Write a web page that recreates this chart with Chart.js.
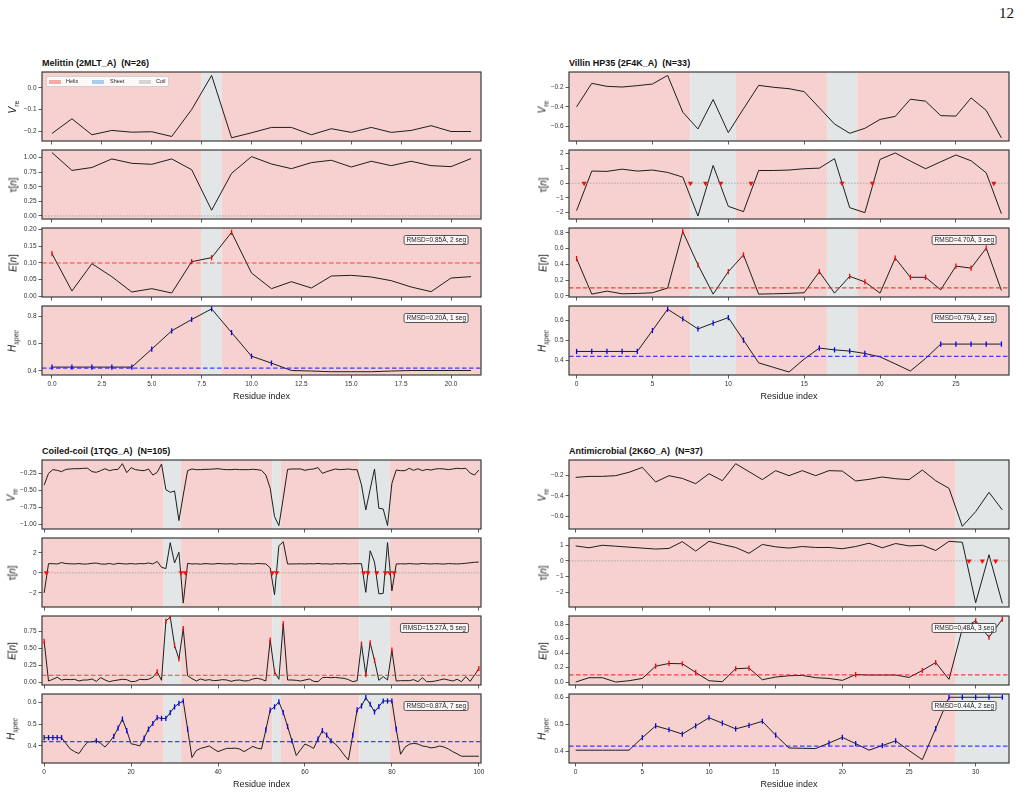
<!DOCTYPE html>
<html>
<head>
<meta charset="utf-8">
<script src="https://cdn.jsdelivr.net/npm/chart.js@4.4.0/dist/chart.umd.min.js"></script>
<style>
  body { margin: 0; background: #fff; width: 1021px; height: 794px; position: relative; overflow: hidden;
         font-family: 'Liberation Sans', Arial, sans-serif; color: #222; }
  canvas { position: absolute; }
  .title { position: absolute; font-weight: bold; font-size: 9px; white-space: pre; color: #111; }
  .ylab { position: absolute; font-size: 10px; white-space: nowrap; transform: translate(-50%, -50%) rotate(-90deg); }
  .ylab sub { font-size: 7px; }
  .xlab { position: absolute; font-size: 9px; transform: translate(-50%, -50%); white-space: nowrap; }
  .rmsd { position: absolute; font-size: 6.5px; line-height: 8px; padding: 0 2px; white-space: nowrap;
          border: 1px solid #555; border-radius: 2px; background: rgba(255,255,255,0.8); transform: translateX(-100%); }
  .legend { position: absolute; left: 46px; top: 76px; width: 121px; height: 9px; background: rgba(255,255,255,0.85);
            border: 1px solid #d0d0d0; border-radius: 2px; font-size: 5.5px; }
  .legend span { position: absolute; top: 1px; line-height: 7px; }
  .legend i { position: absolute; top: 2.5px; width: 12px; height: 4px; }
  .page { position: absolute; right: 7px; top: 5px; font-family: 'Liberation Serif', serif; font-size: 15px; color: #111; }
</style>
</head>
<body>
<div class="page">12</div>
<script>
// ---- Melittin (2MLT_A) ----
const melSS = 'HHHHHHHHCHHHHHHHHHHHHH';
const melVre = [-0.211, -0.143, -0.217, -0.197, -0.205, -0.203, -0.225, -0.100, 0.058, -0.231, -0.208,
                -0.183, -0.183, -0.217, -0.189, -0.206, -0.183, -0.206, -0.197, -0.175, -0.202, -0.202];
const melTau = [1.086, 0.78, 0.83, 0.977, 0.902, 0.885, 0.977, 0.793, 0.098, 0.73, 1.017,
                0.89, 0.81, 0.914, 0.954, 0.839, 0.937, 0.862, 0.937, 0.862, 0.845, 0.983];
const melE = [0.128, 0.016, 0.098, 0.059, 0.013, 0.023, 0.010, 0.104, 0.116, 0.192, 0.070,
              0.023, 0.044, 0.025, 0.061, 0.063, 0.058, 0.047, 0.028, 0.014, 0.055, 0.059];
const melH = [0.427, 0.427, 0.427, 0.427, 0.427, 0.559, 0.693, 0.776, 0.854, 0.680, 0.507,
              0.456, 0.402, 0.398, 0.393, 0.393, 0.393, 0.398, 0.402, 0.402, 0.402, 0.402];
const melCross = [];
const melXT = ['0.0', '2.5', '5.0', '7.5', '10.0', '12.5', '15.0', '17.5', '20.0'];
const melVreT = ['0.0', '-0.1', '-0.2'];
const melTauT = ['1.00', '0.75', '0.50', '0.25', '0.00'];
const melET = ['0.20', '0.15', '0.10', '0.05', '0.00'];
const melHT = ['0.8', '0.6', '0.4'];

// ---- Villin HP35 (2F4K_A) ----
const vilSS = 'HHHHHHHHCCCHHHHHHCCHHHHHHHHHH';
const vilVre = [-0.40, -0.159, -0.19, -0.197, -0.183, -0.166, -0.078, -0.454, -0.627, -0.325, -0.664,
                -0.42, -0.18, -0.20, -0.214, -0.244, -0.41, -0.576, -0.671, -0.62, -0.529,
                -0.498, -0.322, -0.342, -0.49, -0.495, -0.308, -0.437, -0.718];
const vilTau = [-1.86, 0.82, 0.80, 0.95, 0.82, 0.89, 0.73, 0.41, -2.23, 1.20, -1.57,
                -1.93, 0.86, 0.86, 0.89, 0.98, 1.02, 1.66, -1.66, -2.0, 1.61,
                2.05, 1.50, 0.98, 1.45, 1.91, 1.52, 0.70, -2.07];
const vilE = [0.473, 0.021, 0.059, 0.025, 0.029, 0.038, 0.098, 0.817, 0.394, 0.021, 0.306,
              0.52, 0.021, 0.025, 0.03, 0.038, 0.306, 0.033, 0.247, 0.176, 0.033,
              0.48, 0.235, 0.235, 0.075, 0.377, 0.352, 0.607, 0.067];
const vilH = [0.445, 0.445, 0.445, 0.445, 0.445, 0.55, 0.657, 0.608, 0.558, 0.587, 0.615,
              0.502, 0.388, 0.365, 0.342, 0.407, 0.462, 0.453, 0.447, 0.435, 0.418,
              0.383, 0.347, 0.41, 0.482, 0.482, 0.482, 0.482, 0.482];
const vilCross = [0.5, 7.5, 8.5, 9.5, 11.5, 17.5, 19.5, 27.5];
const vilXT = ['0', '5', '10', '15', '20', '25'];
const vilVreT = ['-0.2', '-0.4', '-0.6'];
const vilTauT = ['2', '1', '0', '-1', '-2'];
const vilET = ['0.8', '0.6', '0.4', '0.2', '0.0'];
const vilHT = ['0.6', '0.5', '0.4'];

// ---- Coiled-coil (1TQG_A) ----
const ccSS = 'HHHHHHHHHHHHHHHHHHHHHHHHHHHHCCCCHHHHHHHHHHHHHHHHHHHHHCCHHHHHHHHHHHHHHHHHHCCCCCCCHHHHHHHHHHHHHHHHHHHHH';
const ccVre = [-0.418, -0.245, -0.19, -0.20, -0.22, -0.186, -0.18, -0.176, -0.176, -0.17,
               -0.17, -0.22, -0.23, -0.205, -0.176, -0.205, -0.19, -0.186, -0.102, -0.235,
               -0.161, -0.19, -0.20, -0.205, -0.18, -0.27, -0.23, -0.107, -0.487, -0.526,
               -0.506, -0.945, -0.566, -0.205, -0.18, -0.19, -0.19, -0.185, -0.185, -0.18,
               -0.176, -0.185, -0.19, -0.19, -0.185, -0.19, -0.19, -0.19, -0.185, -0.19,
               -0.20, -0.27, -0.467, -0.886, -1.02, -0.615, -0.186, -0.18, -0.18, -0.18,
               -0.20, -0.186, -0.18, -0.16, -0.245, -0.22, -0.20, -0.18, -0.19, -0.186,
               -0.18, -0.19, -0.19, -0.418, -0.787, -0.48, -0.18, -0.763, -0.773, -1.02,
               -0.393, -0.196, -0.205, -0.205, -0.17, -0.20, -0.176, -0.205, -0.186, -0.196,
               -0.18, -0.176, -0.18, -0.19, -0.18, -0.17, -0.176, -0.17, -0.24, -0.27,
               -0.196];
const ccTau = [-2.0, 0.91, 0.91, 0.88, 1.02, 0.92, 0.90, 0.88, 0.92, 0.87,
               0.88, 0.95, 0.97, 0.88, 0.86, 0.93, 0.84, 0.95, 0.90, 0.88,
               0.92, 0.87, 0.92, 0.90, 0.98, 0.88, 1.14, 0.55, 0.42, 3.0,
               0.98, 2.05, -3.02, 0.94, 0.88, 0.90, 0.86, 0.92, 0.89, 0.87,
               0.93, 0.90, 0.88, 0.91, 0.86, 0.92, 0.89, 0.90, 0.87, 0.93,
               0.91, 0.88, 0.49, -2.2, 2.7, 3.09, 0.88, 0.88, 0.89, 0.90,
               0.88, 0.91, 0.89, 0.93, 0.88, 0.90, 0.86, 0.91, 0.89, 0.92,
               0.88, 0.90, 0.91, 0.91, -1.95, 2.2, 1.07, -2.1, -2.05, 3.02,
               -1.8, 0.88, 0.90, 0.88, 0.92, 0.89, 0.87, 0.93, 0.90, 0.88,
               0.91, 0.89, 0.87, 0.92, 0.90, 0.88, 0.91, 0.95, 1.0, 1.05,
               1.07];
const ccE = [0.60, 0.015, 0.04, 0.07, 0.03, 0.04, 0.035, 0.04, 0.015, 0.03,
             0.03, 0.045, 0.01, 0.065, 0.03, 0.005, 0.02, 0.03, 0.04, 0.035,
             0.005, 0.01, 0.04, 0.035, 0.04, 0.07, 0.15, 0.025, 0.90, 0.96,
             0.54, 0.34, 0.79, 0.093, 0.05, 0.015, 0.045, 0.025, 0.035, 0.02,
             0.025, 0.035, 0.03, 0.01, 0.025, 0.03, 0.015, 0.02, 0.045, 0.055,
             0.04, 0.015, 0.62, 0.15, 0.04, 0.86, 0.03, 0.03, 0.025, 0.015,
             0.03, 0.045, 0.01, 0.005, 0.064, 0.068, 0.064, 0.068, 0.06, 0.055,
             0.035, 0.005, 0.02, 0.56, 0.11, 0.58, 0.32, 0.025, 0.08, 0.03,
             0.47, 0.015, 0.02, 0.02, 0.02, 0.035, 0.005, 0.064, 0.005, 0.005,
             0.015, 0.03, 0.045, 0.03, 0.015, 0.04, 0.005, 0.08, 0.01, 0.10,
             0.20];
const ccH = [0.438, 0.438, 0.438, 0.438, 0.438, 0.412, 0.386, 0.374, 0.365, 0.394,
             0.418, 0.419, 0.424, 0.412, 0.395, 0.417, 0.444, 0.482, 0.523, 0.47,
             0.41, 0.406, 0.40, 0.436, 0.477, 0.503, 0.53, 0.526, 0.526, 0.553,
             0.579, 0.595, 0.606, 0.477, 0.347, 0.379, 0.389, 0.394, 0.40, 0.386,
             0.374, 0.382, 0.389, 0.389, 0.39, 0.386, 0.374, 0.386, 0.398, 0.39,
             0.386, 0.474, 0.564, 0.579, 0.602, 0.553, 0.489, 0.424, 0.356, 0.383,
             0.409, 0.40, 0.389, 0.432, 0.47, 0.45, 0.423, 0.409, 0.386, 0.359,
             0.336, 0.45, 0.565, 0.583, 0.621, 0.591, 0.556, 0.58, 0.606, 0.606,
             0.606, 0.477, 0.362, 0.394, 0.408, 0.412, 0.409, 0.40, 0.397, 0.391,
             0.394, 0.40, 0.395, 0.386, 0.374, 0.364, 0.353, 0.353, 0.353, 0.353,
             0.353];
const ccCross = [0.5, 31.5, 32.5, 52.5, 53.5, 73.5, 74.5, 76.5, 78.5, 79.5, 80.5];
const ccXT = ['0', '20', '40', '60', '80', '100'];
const ccVreT = ['-0.25', '-0.50', '-0.75', '-1.00'];
const ccTauT = ['2', '0', '-2'];
const ccET = ['0.75', '0.50', '0.25', '0.00'];
const ccHT = ['0.6', '0.5', '0.4'];

// ---- Antimicrobial (2K6O_A) ----
const amSS = 'HHHHHHHHHHHHHHHHHHHHHHHHHHHHHCCCC';
const amVre = [-0.22, -0.21, -0.21, -0.203, -0.17, -0.122, -0.265, -0.203, -0.23, -0.281, -0.184,
               -0.252, -0.086, -0.164, -0.242, -0.154, -0.203, -0.154, -0.203, -0.154, -0.158,
               -0.255, -0.239, -0.216, -0.233, -0.242, -0.148, -0.252, -0.327, -0.698, -0.554,
               -0.366, -0.538];
const amTau = [0.95, 0.83, 0.99, 0.93, 0.87, 0.81, 0.75, 0.79, 1.22, 0.62, 1.24,
               1.04, 0.85, 0.48, 1.04, 0.89, 0.81, 0.91, 0.85, 0.85, 0.77,
               0.91, 1.12, 0.83, 1.10, 0.95, 0.99, 0.66, 1.24, 1.18, -2.65,
               0.39, -2.69];
const amE = [0.0, 0.06, 0.06, 0.0, 0.018, 0.05, 0.22, 0.257, 0.253, 0.133, 0.018,
             0.005, 0.184, 0.193, 0.032, 0.069, 0.087, 0.092, 0.06, 0.05, 0.023,
             0.103, 0.097, 0.097, 0.097, 0.064, 0.16, 0.27, 0.037, 0.74, 0.846,
             0.62, 0.87];
const amH = [0.405, 0.405, 0.405, 0.405, 0.405, 0.451, 0.494, 0.48, 0.464, 0.494, 0.524,
             0.504, 0.483, 0.496, 0.511, 0.46, 0.413, 0.412, 0.411, 0.431, 0.452,
             0.429, 0.405, 0.422, 0.439, 0.404, 0.37, 0.484, 0.599, 0.599, 0.599,
             0.599, 0.599];
const amCross = [29.5, 30.5, 31.5];
const amXT = ['0', '5', '10', '15', '20', '25', '30'];
const amVreT = ['-0.2', '-0.4', '-0.6'];
const amTauT = ['1', '0', '-1', '-2'];
const amET = ['0.8', '0.6', '0.4', '0.2', '0.0'];
const amHT = ['0.6', '0.5', '0.4'];

const E_THR = 0.1;
const H_THR = 0.42;

// layout
const AXW = 40, PT = 8, PR = 12;
const SS_COLORS = { H: '#f6d1cf', E: '#cfe0ef', C: '#e2e6e6' };
const TICK = '#333';

function fmt(s) { return s.replace('-', '\u2212'); }

function addDiv(cls, html, x, y) {
  const d = document.createElement('div');
  d.className = cls;
  d.innerHTML = html;
  d.style.left = x + 'px';
  d.style.top = y + 'px';
  document.body.appendChild(d);
  return d;
}

function subplot(o) {
  const bottom = o.showX ? 16 : 6;
  const cv = document.createElement('canvas');
  cv.width = AXW + o.w + PR;
  cv.height = PT + o.h + bottom;
  cv.style.left = (o.x - AXW) + 'px';
  cv.style.top = (o.y - PT) + 'px';
  cv.style.width = cv.width + 'px';
  cv.style.height = cv.height + 'px';
  document.body.appendChild(cv);

  const xMin = -0.5, xMax = o.vals.length - 0.5;
  const datasets = [];
  if (o.cross) {
    datasets.push({ data: o.cross.map(c => ({ x: c, y: 0 })), showLine: false,
      pointStyle: 'triangle', rotation: 180, pointRadius: 3, backgroundColor: '#f01010',
      borderColor: '#f01010', borderWidth: 0 });
    datasets.push({ data: [{ x: xMin, y: 0 }, { x: xMax, y: 0 }], borderColor: '#9a9a9a',
      borderWidth: 0.8, borderDash: [1.5, 1.5], pointRadius: 0 });
  }
  if (o.thr !== undefined) {
    const pts = [];
    o.vals.forEach((v, i) => { if (v > o.thr) pts.push({ x: i, y: v }); });
    datasets.push({ data: pts, showLine: false, pointStyle: 'line', rotation: 90, pointRadius: 2.6,
      borderColor: o.color, borderWidth: 1.3 });
    datasets.push({ data: [{ x: xMin, y: o.thr }, { x: xMax, y: o.thr }],
      borderColor: o.color === 'red' ? 'rgba(255,20,20,0.8)' : 'rgba(20,20,255,0.8)',
      borderWidth: 1.2, borderDash: [4.5, 2.5], pointRadius: 0 });
  }
  datasets.push({ data: o.vals.map((v, i) => ({ x: i, y: v })), borderColor: '#1e1e1e',
    borderWidth: 1, pointRadius: 0 });

  const ss = o.ss;
  const ssPlugin = {
    id: 'ssbg',
    beforeDatasetsDraw(chart) {
      const { ctx, chartArea: a, scales: { x } } = chart;
      ctx.save();
      let i = 0;
      while (i < ss.length) {
        let j = i;
        while (j + 1 < ss.length && ss[j + 1] === ss[i]) j++;
        const x0 = i === 0 ? a.left : x.getPixelForValue(i - 0.5);
        const x1 = j === ss.length - 1 ? a.right : x.getPixelForValue(j + 0.5);
        ctx.fillStyle = SS_COLORS[ss[i]];
        ctx.fillRect(x0, a.top, x1 - x0, a.bottom - a.top);
        i = j + 1;
      }
      ctx.restore();
    },
    afterDraw(chart) {
      const { ctx, chartArea: a } = chart;
      ctx.save();
      ctx.strokeStyle = '#3a3a3a';
      ctx.lineWidth = 1.2;
      ctx.strokeRect(a.left, a.top, a.right - a.left, a.bottom - a.top);
      ctx.restore();
    }
  };

  const axisCommon = {
    type: 'linear',
    grid: { drawOnChartArea: false, drawTicks: true, tickLength: 3.5, tickColor: TICK, tickWidth: 0.8 },
    border: { display: false }
  };

  new Chart(cv, {
    type: 'line',
    data: { datasets },
    options: {
      responsive: false, animation: false, events: [],
      layout: { padding: { top: PT, right: PR, left: 0, bottom: 0 } },
      plugins: { legend: { display: false }, tooltip: { enabled: false } },
      scales: {
        x: Object.assign({}, axisCommon, {
          min: xMin, max: xMax,
          afterBuildTicks: s => { s.ticks = o.xt.map(t => ({ value: parseFloat(t) })); },
          afterFit: s => { s.height = bottom; },
          ticks: { display: o.showX, autoSkip: false, maxRotation: 0, padding: 1.5, color: TICK,
                   font: { size: 6.5 }, callback: (v, i) => fmt(o.xt[i]) }
        }),
        y: Object.assign({}, axisCommon, {
          min: o.yr[0], max: o.yr[1],
          afterBuildTicks: s => { s.ticks = o.yt.map(t => ({ value: parseFloat(t) })); },
          afterFit: s => { s.width = AXW; },
          ticks: { autoSkip: false, padding: 2, color: TICK, font: { size: 6.5 },
                   callback: (v, i) => fmt(o.yt[i]) }
        })
      }
    },
    plugins: [ssPlugin]
  });
}

function panel(p) {
  addDiv('title', p.title, p.x, p.rows[0] - 14.5);
  const labels = ['<i>V</i><sub>re</sub>', '\u03c4[<i>n</i>]', '<i>E</i>[<i>n</i>]', '<i>H</i><sub><i>spec</i></sub>'];
  const series = [p.vre, p.tau, p.e, p.hs];
  const ticks = [p.vreT, p.tauT, p.eT, p.hT];
  for (let k = 0; k < 4; k++) {
    const o = { x: p.x, y: p.rows[k], w: p.w, h: 69, vals: series[k], ss: p.ss, xt: p.xt,
                yt: ticks[k], yr: p.yr[k], showX: k === 3 };
    if (k === 1) o.cross = p.cross;
    if (k === 2) { o.thr = E_THR; o.color = 'red'; }
    if (k === 3) { o.thr = H_THR; o.color = 'blue'; }
    subplot(o);
    addDiv('ylab', labels[k], p.labX, p.rows[k] + 34.5);
  }
  addDiv('rmsd', p.rmsdE, p.x + p.w - 12, p.rows[2] + 7);
  addDiv('rmsd', p.rmsdH, p.x + p.w - 12, p.rows[3] + 7);
  addDiv('xlab', 'Residue index', p.x + p.w / 2, p.rows[3] + 90);
}

const TOP = [72, 150, 228, 306];
const BOT = [460, 538, 616, 694];

panel({ title: 'Melittin (2MLT_A)  (N=26)', x: 42, w: 439, labX: 13, rows: TOP, ss: melSS,
        vre: melVre, tau: melTau, e: melE, hs: melH, cross: melCross, xt: melXT,
        vreT: melVreT, tauT: melTauT, eT: melET, hT: melHT,
        yr: [[-0.246, 0.074], [-0.052, 1.13], [-0.002, 0.205], [0.369, 0.875]],
        rmsdE: 'RMSD=0.85\u00c5, 2 seg', rmsdH: 'RMSD=0.20\u00c5, 1 seg' });

panel({ title: 'Villin HP35 (2F4K_A)  (N=33)', x: 569, w: 440, labX: 543, rows: TOP, ss: vilSS,
        vre: vilVre, tau: vilTau, e: vilE, hs: vilH, cross: vilCross, xt: vilXT,
        vreT: vilVreT, tauT: vilTauT, eT: vilET, hT: vilHT,
        yr: [[-0.75, -0.043], [-2.43, 2.25], [-0.016, 0.863], [0.327, 0.673]],
        rmsdE: 'RMSD=4.70\u00c5, 3 seg', rmsdH: 'RMSD=0.79\u00c5, 2 seg' });

panel({ title: 'Coiled-coil (1TQG_A)  (N=105)', x: 42, w: 439, labX: 12, rows: BOT, ss: ccSS,
        vre: ccVre, tau: ccTau, e: ccE, hs: ccH, cross: ccCross, xt: ccXT,
        vreT: ccVreT, tauT: ccTauT, eT: ccET, hT: ccHT,
        yr: [[-1.07, -0.047], [-3.41, 3.47], [-0.044, 0.975], [0.322, 0.638]],
        rmsdE: 'RMSD=15.27\u00c5, 5 seg', rmsdH: 'RMSD=0.87\u00c5, 7 seg' });

panel({ title: 'Antimicrobial (2K6O_A)  (N=37)', x: 569, w: 440, labX: 543, rows: BOT, ss: amSS,
        vre: amVre, tau: amTau, e: amE, hs: amH, cross: amCross, xt: amXT,
        vreT: amVreT, tauT: amTauT, eT: amET, hT: amHT,
        yr: [[-0.724, -0.05], [-2.92, 1.45], [-0.041, 0.914], [0.358, 0.611]],
        rmsdE: 'RMSD=0.48\u00c5, 3 seg', rmsdH: 'RMSD=0.44\u00c5, 2 seg' });

// legend inside the first V_re axis
const lg = addDiv('legend', '', 46, 76);
lg.innerHTML = '<i style="left:2px;background:#f3aba5"></i><span style="left:19px">Helix</span>' +
               '<i style="left:45px;background:#a9cdea"></i><span style="left:63px">Sheet</span>' +
               '<i style="left:92px;background:#d5d5d5"></i><span style="left:109px">Coil</span>';
</script>
</body>
</html>
